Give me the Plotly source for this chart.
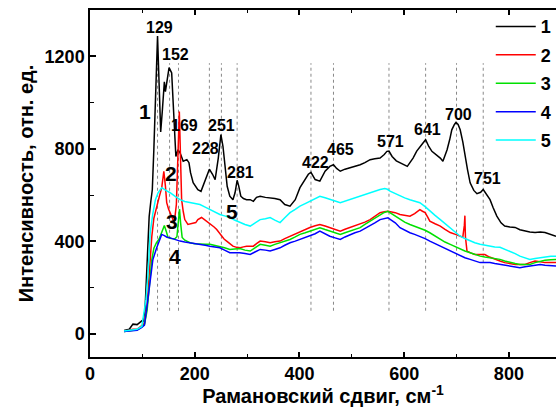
import plotly.graph_objects as go

# ---- data ----
x1 = [65, 75, 82, 90, 99, 101, 105, 108, 111, 113, 116, 119, 122, 125, 129, 132, 135, 138, 142, 144, 148, 151, 156, 159, 162, 164, 168, 172, 178, 185, 189, 192, 197, 206, 212, 218, 224, 228, 234, 239, 245, 250, 254, 258, 262, 267, 273, 277, 281, 284, 288, 293, 299, 306, 312, 318, 325, 335, 344, 353, 363, 372, 382, 392, 401, 411, 417, 422, 430, 439, 449, 458, 465, 471, 478, 487, 497, 506, 516, 525, 535, 544, 554, 562, 567, 571, 577, 585, 592, 600, 606, 611, 617, 624, 630, 636, 641, 647, 653, 661, 669, 674, 682, 687, 691, 696, 699, 703, 707, 712, 716, 721, 726, 733, 739, 746, 751, 757, 764, 770, 777, 785, 792, 802, 812, 821, 831, 840, 850, 860, 869, 880, 890]
y1 = [15, 20, 42, 40, 56, 50, 100, 250, 420, 507, 570, 623, 800, 1030, 1287, 1080, 873, 960, 1090, 1047, 1120, 1151, 1128, 981, 850, 767, 796, 783, 746, 753, 740, 697, 654, 623, 616, 650, 681, 712, 690, 667, 760, 861, 810, 710, 638, 595, 580, 610, 664, 640, 595, 585, 580, 580, 573, 590, 595, 590, 589, 585, 580, 559, 552, 580, 632, 667, 690, 698, 667, 660, 703, 724, 731, 715, 703, 712, 718, 725, 731, 740, 753, 757, 760, 775, 789, 790, 767, 748, 739, 730, 724, 740, 760, 790, 810, 825, 839, 810, 789, 775, 760, 746, 796, 840, 882, 905, 914, 905, 882, 830, 767, 710, 653, 620, 606, 612, 624, 605, 580, 545, 509, 480, 466, 462, 460, 450, 444, 440, 438, 440, 438, 428, 422]

x2 = [65, 75, 82, 90, 99, 104, 109, 113, 118, 122, 127, 132, 137, 141, 144, 146.5, 150, 153, 157, 161, 165, 168, 170.6, 173, 175, 178, 181, 187, 195, 202, 206, 213, 218, 223, 228, 232, 237, 242, 247, 252, 256, 261, 267, 273, 280, 287, 293, 299, 306, 312, 318, 325, 335, 344, 353, 363, 372, 382, 392, 401, 411, 420, 430, 439, 449, 458, 468, 478, 487, 497, 506, 516, 525, 535, 544, 554, 562, 569, 576, 583, 592, 600, 611, 620, 630, 635, 640, 645, 649, 659, 669, 678, 688, 698, 707, 712, 715, 716, 717, 720, 727, 735, 745, 754, 763, 773, 783, 792, 802, 812, 821, 831, 840, 850, 860, 869, 880, 890]
y2 = [10, 15, 20, 20, 34, 45, 120, 266, 420, 500, 550, 590, 632, 703, 640, 567, 540, 524, 500, 481, 560, 800, 961, 750, 580, 530, 494, 473, 478, 481, 494, 503, 495, 487, 480, 473, 462, 451, 435, 422, 410, 401, 390, 379, 374, 372, 376, 379, 379, 379, 390, 401, 398, 394, 398, 401, 412, 422, 433, 444, 452, 460, 467, 473, 466, 460, 452, 444, 452, 460, 467, 473, 483, 494, 509, 524, 528, 530, 527, 524, 516, 512, 509, 520, 537, 530, 524, 505, 487, 476, 466, 452, 438, 430, 422, 418, 470, 511, 420, 358, 350, 343, 343, 343, 332, 322, 315, 308, 304, 300, 300, 300, 308, 315, 312, 308, 308, 308]

x3 = [65, 75, 82, 90, 99, 104, 109, 113, 118, 122, 127, 132, 137, 142, 146, 149, 155, 162, 166, 169, 171, 173, 176, 181, 191, 200, 210, 220, 229, 238, 248, 257, 267, 276, 286, 296, 306, 315, 325, 335, 344, 353, 363, 372, 382, 392, 401, 411, 420, 430, 439, 449, 458, 468, 478, 487, 497, 506, 516, 525, 535, 544, 554, 562, 569, 576, 583, 592, 601, 611, 620, 630, 640, 649, 659, 669, 678, 688, 698, 707, 716, 726, 735, 745, 754, 764, 773, 783, 792, 802, 812, 821, 831, 840, 850, 860, 869, 880, 890]
y3 = [10, 14, 18, 18, 30, 40, 100, 210, 320, 370, 394, 410, 440, 468, 440, 417, 412, 411, 420, 480, 540, 480, 417, 405, 394, 390, 387, 387, 387, 383, 379, 372, 365, 367, 369, 362, 358, 372, 387, 383, 379, 387, 394, 401, 408, 419, 430, 437, 444, 451, 459, 451, 444, 437, 430, 437, 444, 451, 459, 473, 487, 501, 516, 525, 530, 520, 509, 494, 483, 473, 466, 459, 448, 437, 422, 408, 397, 387, 376, 365, 358, 351, 343, 336, 332, 329, 325, 322, 315, 308, 304, 300, 300, 300, 308, 315, 318, 320, 322]

x4 = [65, 75, 82, 90, 99, 104, 109, 115, 120, 127, 132, 137, 142, 147, 153, 162, 172, 181, 191, 200, 210, 220, 229, 238, 248, 257, 267, 276, 286, 296, 306, 315, 325, 335, 344, 353, 363, 372, 382, 392, 401, 411, 420, 430, 439, 449, 458, 468, 478, 487, 497, 506, 516, 525, 535, 544, 554, 562, 569, 576, 583, 592, 601, 611, 620, 630, 640, 649, 659, 669, 678, 688, 698, 707, 716, 726, 735, 745, 754, 764, 773, 783, 792, 802, 812, 821, 831, 840, 850, 860, 869, 880, 890]
y4 = [10, 12, 16, 16, 28, 38, 121, 223, 320, 370, 400, 430, 425, 418, 415, 408, 401, 397, 394, 390, 387, 383, 379, 376, 372, 362, 351, 351, 351, 347, 343, 354, 365, 362, 358, 365, 372, 383, 394, 401, 408, 415, 422, 433, 444, 433, 422, 415, 408, 419, 430, 437, 444, 455, 466, 480, 494, 500, 502, 491, 480, 459, 448, 437, 430, 422, 412, 401, 390, 379, 369, 358, 347, 336, 329, 322, 315, 308, 308, 308, 304, 300, 297, 293, 290, 286, 290, 293, 297, 300, 297, 295, 293]

x5 = [65, 75, 82, 90, 99, 101, 104, 107, 111, 115, 120, 125, 130, 137, 145, 153, 162, 172, 181, 191, 200, 210, 220, 229, 238, 248, 257, 267, 276, 286, 296, 306, 315, 325, 335, 344, 353, 363, 372, 382, 392, 401, 411, 420, 430, 439, 449, 458, 468, 478, 487, 497, 506, 516, 525, 535, 544, 554, 563, 568, 573, 583, 592, 601, 611, 620, 630, 640, 649, 659, 669, 678, 688, 698, 707, 716, 726, 735, 745, 754, 764, 773, 783, 792, 802, 812, 821, 831, 840, 850, 860, 869, 880, 890]
y5 = [12, 14, 18, 20, 32, 60, 90, 150, 266, 438, 520, 580, 610, 632, 620, 610, 595, 580, 572, 567, 563, 559, 548, 537, 527, 516, 510, 503, 492, 481, 473, 466, 480, 494, 498, 503, 492, 481, 502, 524, 538, 552, 563, 573, 584, 595, 588, 580, 574, 567, 574, 580, 588, 595, 602, 610, 617, 624, 628, 625, 617, 606, 595, 588, 580, 574, 567, 550, 530, 512, 494, 477, 460, 441, 422, 412, 401, 394, 387, 383, 379, 376, 374, 366, 358, 347, 336, 329, 322, 326, 330, 333, 336, 336]

series_names = ["1", "2", "3", "4", "5"]
series_colors = ["#000000", "#ff0000", "#00e000", "#0000ff", "#00ffff"]

peak_positions = [129, 152, 169, 228, 251, 281, 422, 465, 571, 641, 700, 751]
peak_labels = ["129", "152", "169", "228", "251", "281", "422", "465", "571", "641", "700", "751"]
peak_label_x = [132, 164, 180, 220, 252, 288, 430, 479, 573, 644, 703, 760]
peak_label_y = [1326, 1206, 900, 800, 900, 697, 740, 796, 830, 882, 947, 671]

curve_label_x = [105, 155, 157, 162, 271]
curve_label_y = [960, 693, 485, 335, 529]

FONT = "Liberation Sans, Arial, sans-serif"

fig = go.Figure()

# dotted peak markers
for p in peak_positions:
    fig.add_shape(type="line", x0=p, x1=p, y0=100, y1=1170, xref="x", yref="y",
                  line=dict(color="#888888", width=1, dash="dot"), layer="below")

xs = [x1, x2, x3, x4, x5]
ys = [y1, y2, y3, y4, y5]
for i in range(5):
    fig.add_trace(go.Scatter(x=xs[i], y=ys[i], mode="lines", name=series_names[i],
                             legendgroup=series_names[i],
                             line=dict(color=series_colors[i], width=1.5)))

for t, xx, yy in zip(peak_labels, peak_label_x, peak_label_y):
    fig.add_annotation(x=xx, y=yy, text=t, showarrow=False,
                       font=dict(family=FONT, size=16, color="black", weight="bold"),
                       xanchor="center", yanchor="middle")

for t, xx, yy in zip(series_names, curve_label_x, curve_label_y):
    fig.add_annotation(x=xx, y=yy, text=t, showarrow=False,
                       font=dict(family=FONT, size=21, color="black", weight="bold"),
                       xanchor="center", yanchor="middle")

fig.update_layout(
    width=556, height=407,
    margin=dict(l=90, r=0, t=10, b=50, autoexpand=False),
    paper_bgcolor="white", plot_bgcolor="white",
    font=dict(family=FONT, color="black"),
    showlegend=True,
    legend=dict(x=0.86, y=1.005, xanchor="left", yanchor="top",
                bgcolor="rgba(0,0,0,0)", borderwidth=0,
                font=dict(family=FONT, size=18, color="black", weight="bold"),
                tracegroupgap=2, itemwidth=40, traceorder="grouped"),
    xaxis=dict(range=[0, 890], showgrid=False, zeroline=False, automargin=False,
               showline=True, linecolor="black", linewidth=1.5, mirror="ticks",
               ticks="inside", ticklen=5, tickwidth=1.5, tickcolor="black",
               tickvals=[0, 200, 400, 600, 800],
               ticktext=["0", "200", "400", "600", "800"],
               tickfont=dict(family=FONT, size=18, color="black", weight="bold"),
               minor=dict(ticks="inside", ticklen=3, tickwidth=1, tickcolor="black",
                          tickvals=[100, 300, 500, 700]),
               title=dict(text="Рамановский сдвиг, см<sup>-1</sup>",
                          font=dict(family=FONT, size=20, color="black", weight="bold"),
                          standoff=0)),
    yaxis=dict(range=[-100, 1400], showgrid=False, zeroline=False, automargin=False,
               showline=True, linecolor="black", linewidth=1.5,
               ticks="inside", ticklen=6, tickwidth=1.5, tickcolor="black",
               tickvals=[0, 400, 800, 1200],
               ticktext=["0", "400", "800", "1200"],
               tickfont=dict(family=FONT, size=18, color="black", weight="bold"),
               minor=dict(ticks="inside", ticklen=4, tickwidth=1, tickcolor="black",
                          tickvals=[200, 600, 1000]),
               title=dict(text="Интенсивность, отн. ед.",
                          font=dict(family=FONT, size=20, color="black", weight="bold"),
                          standoff=6)),
)

fig.write_html("out.html", config={"displayModeBar": False},
               post_script="document.body.style.margin='0';document.body.style.padding='0';")
